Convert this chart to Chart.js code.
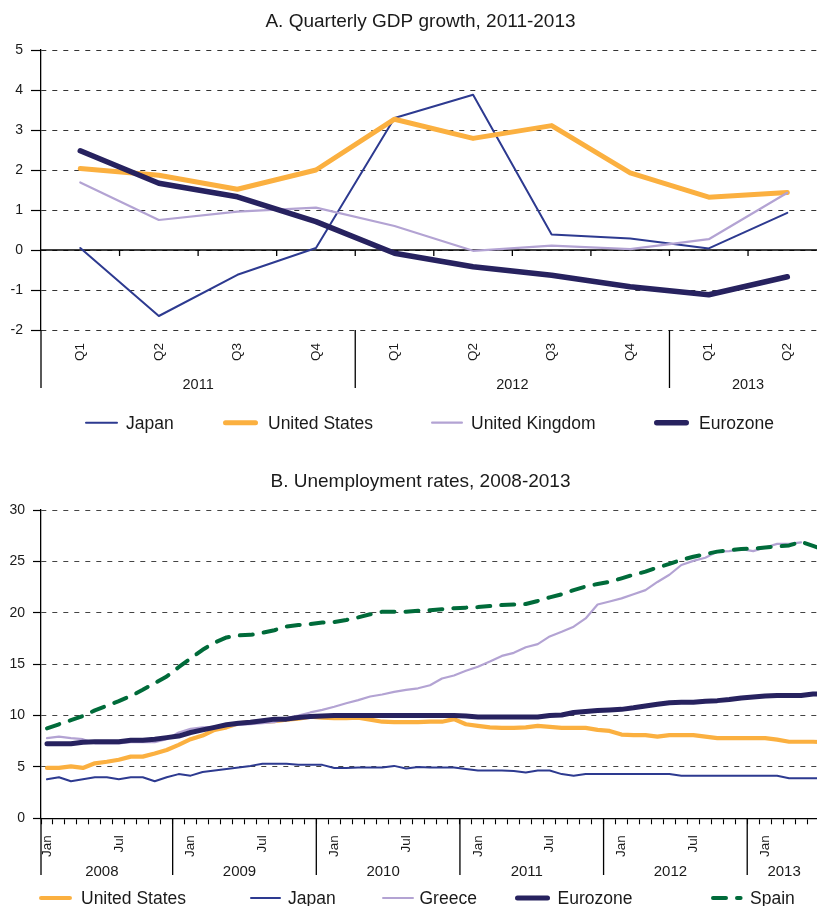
<!DOCTYPE html>
<html>
<head>
<meta charset="utf-8">
<script src="https://cdn.jsdelivr.net/npm/chart.js@4.4.1/dist/chart.umd.min.js"></script>
<style>
  html, body { margin: 0; padding: 0; background: #fff; width: 817px; height: 906px; overflow: hidden; }
  #ca { position: absolute; left: 0; top: 0; }
  #cb { position: absolute; left: 0; top: 445px; }
</style>
</head>
<body>
<canvas id="ca" width="841" height="445" style="width:841px;height:445px"></canvas>
<canvas id="cb" width="841" height="470" style="width:841px;height:470px"></canvas>
<script>
// ---------- Panel A data ----------
const quarterLabels = ['Q1', 'Q2', 'Q3', 'Q4', 'Q1', 'Q2', 'Q3', 'Q4', 'Q1', 'Q2'];
const gdpYears = ['2011', '2012', '2013'];
const gdpYearSpans = [4, 4, 2];
const gdpJapan = [0.05, -1.65, -0.62, 0.05, 3.30, 3.88, 0.39, 0.29, 0.04, 0.93];
const gdpUS = [2.04, 1.87, 1.52, 2.00, 3.27, 2.79, 3.11, 1.93, 1.32, 1.44];
const gdpUK = [1.69, 0.75, 0.96, 1.06, 0.60, -0.02, 0.11, 0.02, 0.27, 1.43];
const gdpEurozone = [2.48, 1.67, 1.33, 0.71, -0.08, -0.42, -0.63, -0.92, -1.12, -0.67];

// ---------- Panel B data ----------
const unempYears = ['2008', '2009', '2010', '2011', '2012', '2013'];
const unempYearSpans = [11, 12, 12, 12, 12, 7];
const monthNames = ['Jan', 'Feb', 'Mar', 'Apr', 'May', 'Jun', 'Jul', 'Aug', 'Sep', 'Oct', 'Nov', 'Dec'];
const shownMonths = ['Jan', 'Jul'];
const unempUS = [4.9, 4.9, 5.05, 4.9, 5.35, 5.5, 5.7, 6.0, 6.0, 6.3, 6.65, 7.15,
  7.7, 8.05, 8.6, 8.85, 9.25, 9.35, 9.4, 9.45, 9.6, 9.7, 9.9, 9.8,
  9.75, 9.75, 9.8, 9.6, 9.4, 9.35, 9.35, 9.35, 9.4, 9.4, 9.65, 9.15,
  9.0, 8.85, 8.8, 8.8, 8.85, 9.0, 8.9, 8.8, 8.8, 8.8, 8.6, 8.5,
  8.15, 8.1, 8.1, 7.95, 8.1, 8.1, 8.1, 7.95, 7.8, 7.8, 7.8, 7.8,
  7.8, 7.65, 7.45, 7.45, 7.45, 7.4];
const unempJapan = [3.8, 4.0, 3.6, 3.8, 4.0, 4.0, 3.8, 4.0, 4.0, 3.6, 4.0, 4.3,
  4.15, 4.5, 4.65, 4.8, 4.95, 5.1, 5.3, 5.3, 5.3, 5.2, 5.2, 5.2,
  4.9, 4.9, 4.95, 4.95, 4.95, 5.1, 4.85, 5.0, 4.95, 4.95, 4.95, 4.8,
  4.65, 4.65, 4.65, 4.6, 4.45, 4.65, 4.65, 4.3, 4.15, 4.3, 4.3, 4.3,
  4.3, 4.3, 4.3, 4.3, 4.3, 4.15, 4.15, 4.15, 4.15, 4.15, 4.15, 4.15,
  4.15, 4.15, 3.9, 3.9, 3.9, 3.9];
const unempGreece = [7.8, 7.95, 7.8, 7.7, 7.3, 7.3, 7.3, 7.4, 7.4, 7.4, 7.7, 8.35,
  8.7, 8.85, 8.9, 9.0, 9.1, 9.15, 9.25, 9.35, 9.75, 10.0, 10.3, 10.55,
  10.85, 11.2, 11.5, 11.85, 12.05, 12.3, 12.5, 12.65, 12.95, 13.6, 13.9, 14.35,
  14.75, 15.25, 15.8, 16.1, 16.65, 16.95, 17.7, 18.15, 18.65, 19.45, 20.8, 21.1,
  21.4, 21.8, 22.2, 23.0, 23.7, 24.65, 25.05, 25.35, 25.95, 26.0, 26.2, 26.0,
  26.35, 26.7, 26.7, 26.85, null, null];
const unempEurozone = [7.25, 7.25, 7.25, 7.4, 7.45, 7.45, 7.45, 7.6, 7.6, 7.7, 7.85, 8.0,
  8.35, 8.6, 8.85, 9.1, 9.25, 9.35, 9.5, 9.65, 9.65, 9.8, 9.9, 9.95,
  10.0, 10.0, 10.0, 10.0, 10.0, 10.0, 10.0, 10.0, 10.0, 10.0, 10.0, 9.95,
  9.85, 9.85, 9.85, 9.85, 9.85, 9.85, 10.0, 10.05, 10.3, 10.4, 10.5, 10.55,
  10.6, 10.75, 10.93, 11.1, 11.25, 11.3, 11.3, 11.4, 11.45, 11.55, 11.7, 11.8,
  11.9, 11.95, 11.95, 11.95, 12.1, 12.1];
const unempSpain = [8.75, 9.15, 9.55, 9.95, 10.5, 10.95, 11.4, 11.9, 12.5, 13.15, 13.8, 14.7,
  15.55, 16.4, 17.1, 17.6, 17.8, 17.85, 18.05, 18.3, 18.65, 18.8, 18.9, 19.05,
  19.1, 19.3, 19.55, 19.85, 20.1, 20.1, 20.1, 20.2, 20.25, 20.35, 20.45, 20.5,
  20.55, 20.65, 20.75, 20.8, 20.85, 21.15, 21.5, 21.8, 22.2, 22.55, 22.8, 23.0,
  23.35, 23.7, 24.0, 24.4, 24.75, 25.15, 25.45, 25.7, 25.95, 26.1, 26.2, 26.25,
  26.35, 26.45, 26.55, 26.9, 26.5, 26.1];

// month categories Jan 2008 ... (one per value)
const monthCats = [];
for (const yr of unempYears) for (const m of monthNames) monthCats.push(m + ' ' + yr);
monthCats.length = unempUS.length;

// ---------- styling ----------
const FONT = "'Liberation Sans', Arial, Helvetica, sans-serif";
const INK = '#1a1a1a';
const COL = { japan: '#2D3A90', us: '#FBB040', uk: '#B3A3D3', ez: '#27225F', spain: '#006B3A' };

function boundaryPx(x, k) {
  const p0 = x.getPixelForValue(0), p1 = x.getPixelForValue(1);
  return p0 + (k - 0.5) * (p1 - p0);
}

function makeDeco(o) {
  return {
    id: 'deco',
    beforeDatasetsDraw(chart) {
      if (!o.zeroLine) return;
      const { ctx, chartArea: a, scales: { x, y } } = chart;
      const y0 = y.getPixelForValue(0);
      ctx.save();
      ctx.strokeStyle = '#000'; ctx.lineWidth = 1.3; ctx.setLineDash([]);
      ctx.beginPath();
      ctx.moveTo(a.left, y0); ctx.lineTo(a.right, y0);
      for (let k = 1; k < chart.data.labels.length; k++) {
        const bx = boundaryPx(x, k);
        ctx.moveTo(bx, y0); ctx.lineTo(bx, y0 + 6);
      }
      ctx.stroke();
      ctx.restore();
    },
    afterDraw(chart) {
      const { ctx, chartArea: a, scales: { x } } = chart;
      ctx.save();
      ctx.fillStyle = INK;
      ctx.textBaseline = 'alphabetic';
      // title
      ctx.font = '19px ' + FONT;
      ctx.textAlign = 'center';
      ctx.fillText(o.title, chart.width / 2, o.titleBase);
      // year group separators + labels
      ctx.strokeStyle = '#000'; ctx.lineWidth = 1.3; ctx.setLineDash([]);
      ctx.beginPath();
      ctx.moveTo(a.left, a.bottom); ctx.lineTo(a.left, o.groupBottom);
      let start = 0;
      ctx.font = o.groupFont + 'px ' + FONT;
      o.spans.forEach((n, gi) => {
        const end = start + n;
        const xs = start === 0 ? a.left : boundaryPx(x, start);
        const xe = boundaryPx(x, end);
        if (gi < o.spans.length - 1) { ctx.moveTo(xe, a.bottom); ctx.lineTo(xe, o.groupBottom); }
        ctx.fillText(o.groups[gi], (xs + xe) / 2 + o.groupShift, o.groupBase);
        start = end;
      });
      ctx.stroke();
      // legend
      ctx.textAlign = 'left';
      ctx.font = '17.5px ' + FONT;
      o.legend.forEach((it, i) => {
        const ds = chart.data.datasets[i];
        const w = ds.borderWidth;
        ctx.save();
        ctx.strokeStyle = ds.borderColor; ctx.lineWidth = w; ctx.lineCap = 'round';
        ctx.setLineDash(ds.borderDash || []);
        ctx.beginPath();
        ctx.moveTo(it[0] + w / 2, o.legendY); ctx.lineTo(it[1] - w / 2, o.legendY);
        ctx.stroke();
        ctx.restore();
        ctx.fillText(ds.label, it[2], o.legendBase);
      });
      ctx.restore();
    }
  };
}

const lineBase = { fill: false, tension: 0, pointRadius: 0, pointHoverRadius: 0, borderJoinStyle: 'round', borderCapStyle: 'round' };
const fixX = h => s => { s.height = h; s.paddingLeft = 0; s.paddingRight = 0; };
const fixY = s => { s.width = 41; s.paddingTop = 0; s.paddingBottom = 0; };

// ---------- Chart A ----------
new Chart(document.getElementById('ca'), {
  type: 'line',
  data: {
    labels: quarterLabels,
    datasets: [
      { ...lineBase, label: 'Japan', data: gdpJapan, borderColor: COL.japan, borderWidth: 2, order: 4 },
      { ...lineBase, label: 'United States', data: gdpUS, borderColor: COL.us, borderWidth: 5, order: 3 },
      { ...lineBase, label: 'United Kingdom', data: gdpUK, borderColor: COL.uk, borderWidth: 2.2, order: 2 },
      { ...lineBase, label: 'Eurozone', data: gdpEurozone, borderColor: COL.ez, borderWidth: 5.5, order: 1 }
    ]
  },
  options: {
    responsive: false, animation: false,
    layout: { autoPadding: false, padding: { top: 50, right: 14.4, left: 0, bottom: 0 } },
    plugins: { legend: { display: false }, title: { display: false }, tooltip: { enabled: false } },
    scales: {
      x: {
        type: 'category', offset: true,
        grid: { display: false, drawTicks: false },
        border: { display: false },
        ticks: { autoSkip: false, minRotation: 90, maxRotation: 90, padding: 13, color: INK, font: { family: FONT, size: 13.5 } },
        afterFit: fixX(115)
      },
      y: {
        min: -2, max: 5,
        ticks: { stepSize: 1, padding: 8, color: INK, font: { family: FONT, size: 14 } },
        grid: { color: '#333', lineWidth: 1, tickLength: 10, tickColor: '#000', tickBorderDash: [], tickWidth: 1.2 },
        border: { display: true, color: '#000', width: 1.3, dash: [5, 6] },
        afterFit: fixY
      }
    }
  },
  plugins: [makeDeco({
    title: 'A. Quarterly GDP growth, 2011-2013', titleBase: 26.5,
    zeroLine: true,
    groups: gdpYears, spans: gdpYearSpans, groupFont: 14.5, groupBase: 388.5, groupBottom: 388, groupShift: 0,
    legend: [[85, 118, 126], [223, 258, 268], [431, 463, 471], [654, 689, 699]],
    legendY: 422.7, legendBase: 428.5
  })]
});

// ---------- Chart B ----------
new Chart(document.getElementById('cb'), {
  type: 'line',
  data: {
    labels: monthCats,
    datasets: [
      { ...lineBase, label: 'United States', data: unempUS, borderColor: COL.us, borderWidth: 4.2, order: 5 },
      { ...lineBase, label: 'Japan', data: unempJapan, borderColor: COL.japan, borderWidth: 2, order: 4 },
      { ...lineBase, label: 'Greece', data: unempGreece, borderColor: COL.uk, borderWidth: 2.2, order: 3 },
      { ...lineBase, label: 'Eurozone', data: unempEurozone, borderColor: COL.ez, borderWidth: 5, order: 2 },
      { ...lineBase, label: 'Spain', data: unempSpain, borderColor: COL.spain, borderWidth: 4, borderDash: [13, 11], order: 1 }
    ]
  },
  options: {
    responsive: false, animation: false,
    layout: { autoPadding: false, padding: { top: 65, right: 10, left: 0, bottom: 0 } },
    plugins: { legend: { display: false }, title: { display: false }, tooltip: { enabled: false } },
    scales: {
      x: {
        type: 'category', offset: true,
        grid: { display: true, drawOnChartArea: false, offset: true, tickLength: 6, color: '#000', tickColor: '#000', tickWidth: 1.1 },
        border: { display: true, color: '#000', width: 1.3 },
        ticks: {
          autoSkip: false, minRotation: 90, maxRotation: 90, padding: 11, color: INK, font: { family: FONT, size: 13.5 },
          callback: function (v, i) { const m = monthCats[i].split(' ')[0]; return shownMonths.includes(m) ? m : ''; }
        },
        afterFit: fixX(96.7)
      },
      y: {
        min: 0, max: 30,
        ticks: { stepSize: 5, padding: 8, color: INK, font: { family: FONT, size: 14 } },
        grid: { color: '#444', lineWidth: 1, tickLength: 8, tickColor: '#000', tickBorderDash: [], tickWidth: 1.2 },
        border: { display: true, color: '#000', width: 1.3, dash: [5, 6] },
        afterFit: fixY
      }
    }
  },
  plugins: [makeDeco({
    title: 'B. Unemployment rates, 2008-2013', titleBase: 42,
    zeroLine: false,
    groups: unempYears, spans: unempYearSpans, groupFont: 15, groupBase: 431, groupBottom: 430, groupShift: -5,
    legend: [[39, 72, 81], [250, 281, 288], [382, 414, 419.5], [515, 550, 557.6], [711, 742.6, 750]],
    legendY: 453, legendBase: 459
  })]
});
</script>
</body>
</html>
